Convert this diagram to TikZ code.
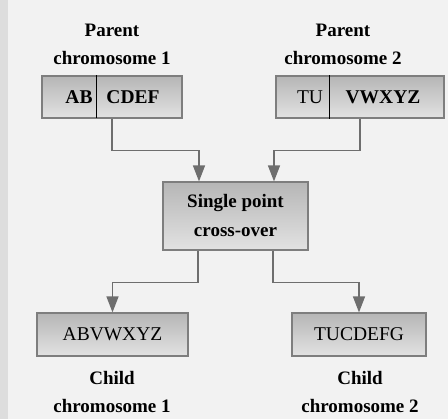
\documentclass[tikz,border=0pt]{standalone}
\usepackage{fontspec}
\setmainfont{Liberation Serif}
\usetikzlibrary{arrows.meta}
\definecolor{bg}{HTML}{F2F2F2}
\definecolor{strip}{HTML}{DDDDDD}
\definecolor{boxline}{HTML}{7E7E7E}
\definecolor{boxtop}{HTML}{B6B6B6}
\definecolor{boxbot}{HTML}{E2E2E2}
\definecolor{conncol}{HTML}{6E6E6E}
\begin{document}
\begin{tikzpicture}[x=1pt,y=1pt,
  box/.style={draw=boxline, line width=1.2pt, top color=boxtop, bottom color=boxbot,
              inner sep=0pt, rectangle},
  boxtext/.style={inner sep=0pt, font=\fontsize{19.5}{24}\selectfont},
  boldtext/.style={boxtext, font=\bfseries\fontsize{19.5}{24}\selectfont},
  lab/.style={align=center, inner sep=0pt, font=\bfseries\fontsize{19}{28}\selectfont},
  conn/.style={draw=conncol, line width=1.5pt,
               -{Triangle[width=12pt,length=16pt]}},
  divider/.style={draw=black, line width=1.3pt}]
  % canvas
  \path[use as bounding box] (0,0) rectangle (448,-419);
  \fill[bg] (0,0) rectangle (448,-419);
  \fill[strip] (0,0) rectangle (8,-419);

  % parent chromosomes
  \node[lab] (p1l) at (112,-44) {Parent\\chromosome 1};
  \node[box, minimum width=140, minimum height=42] (p1) at (112,-97) {};
  \node[boldtext] (p1a) at (79,-97) {AB};
  \node[boldtext] (p1b) at (133,-97) {CDEF};
  \draw[divider] (p1.north west) ++(55,0) -- ++(0,-43);

  \node[lab] (p2l) at (343,-44) {Parent\\chromosome 2};
  \node[box, minimum width=168, minimum height=42] (p2) at (360,-97) {};
  \node[boxtext] (p2a) at (310,-97) {TU};
  \node[boldtext] (p2b) at (383,-97) {VWXYZ};
  \draw[divider] (p2.north west) ++(54,0) -- ++(0,-44);

  % operator
  \node[box, minimum width=145, minimum height=68, align=center,
        font=\bfseries\fontsize{19}{29}\selectfont] (cross) at (235.5,-216) {Single point\\cross-over};

  % children
  \node[box, minimum width=151, minimum height=43, font=\fontsize{19.5}{24}\selectfont] (c1) at (112.5,-334.5) {ABVWXYZ};
  \node[box, minimum width=134, minimum height=43, font=\fontsize{19.5}{24}\selectfont] (c2) at (359,-334.5) {TUCDEFG};
  \node[lab] (c1l) at (112,-392) {Child\\chromosome 1};
  \node[lab] (c2l) at (360,-392) {Child\\chromosome 2};

  % connectors
  \draw[conn] (p1.south) -- ++(0,-32) -| ([xshift=-36.5pt]cross.north);
  \draw[conn] (p2.south) -- ++(0,-32) -| ([xshift=38.5pt]cross.north);
  \draw[conn] ([xshift=-37.5pt]cross.south) -- ++(0,-32) -| (c1.north);
  \draw[conn] ([xshift=37.5pt]cross.south) -- ++(0,-32) -| (c2.north);
\end{tikzpicture}
\end{document}
